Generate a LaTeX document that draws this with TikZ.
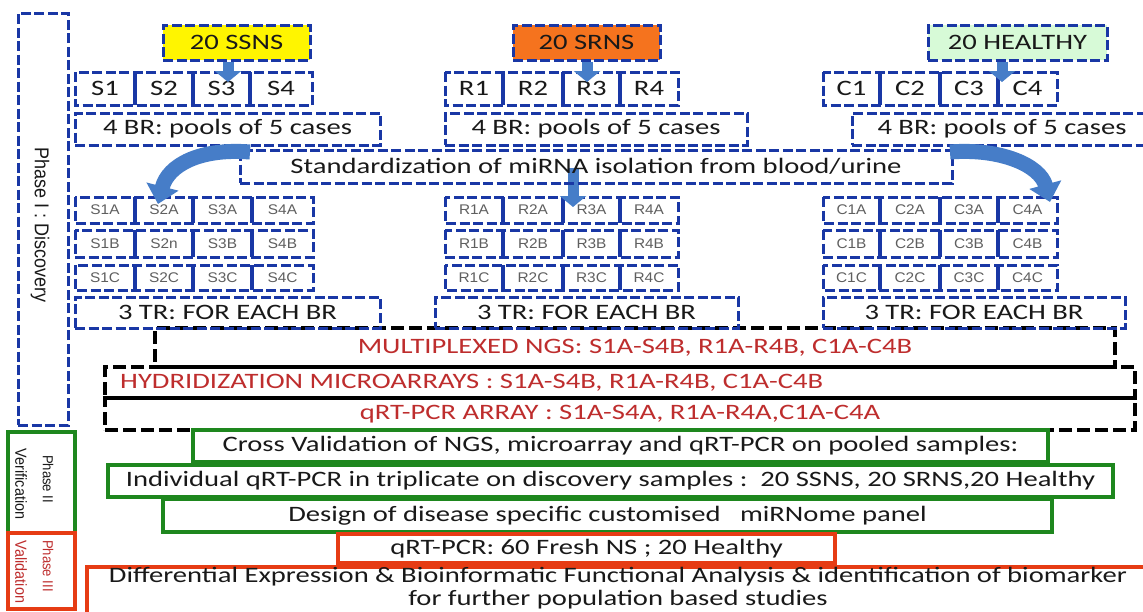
\documentclass[tikz,border=0pt]{standalone}
\usepackage{fontspec}
\setmainfont{Carlito}[FakeStretch=1.3]
\newfontfamily\arialf{Liberation Sans}
\newfontfamily\narrowf{Liberation Sans}[FakeStretch=0.9]
\newfontfamily\cellfont{Liberation Sans}[FakeStretch=1.1]
\usetikzlibrary{arrows.meta}
\definecolor{bluedk}{RGB}{25,55,165}
\definecolor{arrowblue}{RGB}{70,125,200}
\definecolor{txtred}{RGB}{190,45,45}
\definecolor{grn}{RGB}{30,135,30}
\definecolor{redb}{RGB}{230,60,20}
\definecolor{ssnsY}{RGB}{255,245,0}
\definecolor{srnsO}{RGB}{245,115,30}
\definecolor{hlthG}{RGB}{215,250,215}
\definecolor{txt}{RGB}{25,25,25}
\definecolor{celltxt}{RGB}{95,95,95}
\newcommand\mainsz{\fontsize{22}{26}\selectfont}
\newcommand\mybox[7]{\node[#1, minimum width={#5pt-#3pt}, minimum height={#6pt-#4pt}] (#2) at ({(#3+#5)/2},{(#4+#6)/2}) {#7};}
\tikzset{
 bd/.style={draw=bluedk, line width=3pt, dash pattern=on 10pt off 3.5pt, inner sep=0pt, text=txt, font=\mainsz},
 bs/.style={draw=bluedk, line width=3.2pt},
 kd/.style={draw=black, line width=3.8pt, dash pattern=on 13pt off 5pt, inner sep=0pt, text=txtred, font=\mainsz},
 gb/.style={draw=grn, line width=3.5pt, inner sep=0pt, text=txt, font=\mainsz},
 rb/.style={draw=redb, line width=3.5pt, inner sep=0pt, text=txt, font=\mainsz},
 lab/.style={inner sep=0pt, text=txt, font=\mainsz},
 bigcell/.style={inner sep=0pt, text=txt, font=\mainsz},
 smallcell/.style={inner sep=0pt, text=celltxt, font=\cellfont\fontsize{14}{16}\selectfont},
 smallarr/.style={draw=arrowblue, line width=11pt, -{Triangle[width=26pt,length=11pt]}},
 bigarr/.style={draw=arrowblue, line width=15pt, -{Triangle[width=32pt,length=18pt]}},
}
\begin{document}
\begin{tikzpicture}[x=1pt,y=-1pt]
\path[use as bounding box] (0,0) rectangle (1143,611);
\clip (0,0) rectangle (1143,611);
\fill[white] (0,0) rectangle (1143,611);

% black dashed frames
\mybox{kd}{ngs}{155}{328}{1115}{367}{MULTIPLEXED NGS: S1A-S4B, R1A-R4B, C1A-C4B}
\mybox{kd}{hyb}{105}{367}{1135}{398}{}
\node[lab, text=txtred, anchor=west] (hybt) at (120,383) {HYDRIDIZATION MICROARRAYS : S1A-S4B, R1A-R4B, C1A-C4B};
\mybox{kd}{qrt}{105}{398}{1135}{430}{qRT-PCR ARRAY : S1A-S4A, R1A-R4A,C1A-C4A}

% phase labels
\mybox{bd}{ph1}{18}{13}{68}{425}{}
\node[rotate=-90, inner sep=0pt, text=txt, font=\narrowf\fontsize{20}{22}\selectfont] (ph1t) at (40,225) {Phase I : Discovery};
\mybox{gb, line width=4.5pt}{ph2}{8}{432}{75}{533}{}
\node[rotate=-90, inner sep=0pt, text=txt, font=\narrowf\fontsize{14.5}{16}\selectfont] (ph2a) at (48,479) {Phase II};
\node[rotate=-90, inner sep=0pt, text=txt, font=\narrowf\fontsize{16}{18}\selectfont] (ph2b) at (21,484) {Verification};
\mybox{rb, line width=4.5pt}{ph3}{8}{533}{75}{609}{}
\node[rotate=-90, inner sep=0pt, text=txtred, font=\narrowf\fontsize{14.5}{16}\selectfont] (ph3a) at (48,566) {Phase III};
\node[rotate=-90, inner sep=0pt, text=txtred, font=\narrowf\fontsize{16}{18}\selectfont] (ph3b) at (21,572) {Validation};

% top group boxes
\mybox{bd, fill=ssnsY}{ssns}{163}{25}{310}{60}{20 SSNS}
\mybox{bd, fill=srnsO}{srns}{513}{25}{660}{60}{20 SRNS}
\mybox{bd, fill=hlthG}{hlth}{928}{25}{1107}{60}{20 HEALTHY}

% cell rows
\foreach \nm/\xa/\xb/\xc/\xd/\xe/\yt/\yb/\la/\lb/\lc/\ld in {
 s/75/135/193/250/312/72/105/S1/S2/S3/S4,
 r/445/503/563/620/678/72/105/R1/R2/R3/R4,
 c/823/880/940/998/1057/72/105/C1/C2/C3/C4}{
 \draw[bd] (\xa,\yt) rectangle (\xe,\yb);
 \foreach \p in {\xb,\xc,\xd} \draw[bs] (\p,\yt) -- (\p,\yb);
 \node[bigcell] (\nm-1) at ({(\xa+\xb)/2},{(\yt+\yb)/2}) {\la};
 \node[bigcell] (\nm-2) at ({(\xb+\xc)/2},{(\yt+\yb)/2}) {\lb};
 \node[bigcell] (\nm-3) at ({(\xc+\xd)/2},{(\yt+\yb)/2}) {\lc};
 \node[bigcell] (\nm-4) at ({(\xd+\xe)/2},{(\yt+\yb)/2}) {\ld};
}
\foreach \nm/\xa/\xb/\xc/\xd/\xe/\yt/\yb/\la/\lb/\lc/\ld in {
 sa/75/135/193/252/313/197/223/S1A/S2A/S3A/S4A,
 sb/75/135/193/252/313/230/257/S1B/S2n/S3B/S4B,
 sc/75/135/193/252/313/265/290/S1C/S2C/S3C/S4C,
 ra/445/503/563/620/678/197/223/R1A/R2A/R3A/R4A,
 rb/445/503/563/620/678/230/257/R1B/R2B/R3B/R4B,
 rc/445/503/563/620/678/265/290/R1C/R2C/R3C/R4C,
 ca/823/880/940/998/1057/197/223/C1A/C2A/C3A/C4A,
 cb/823/880/940/998/1057/230/257/C1B/C2B/C3B/C4B,
 cc/823/880/940/998/1057/265/290/C1C/C2C/C3C/C4C}{
 \draw[bd] (\xa,\yt) rectangle (\xe,\yb);
 \foreach \p in {\xb,\xc,\xd} \draw[bs] (\p,\yt) -- (\p,\yb);
 \node[smallcell] (\nm-1) at ({(\xa+\xb)/2},{(\yt+\yb)/2}) {\la};
 \node[smallcell] (\nm-2) at ({(\xb+\xc)/2},{(\yt+\yb)/2}) {\lb};
 \node[smallcell] (\nm-3) at ({(\xc+\xd)/2},{(\yt+\yb)/2}) {\lc};
 \node[smallcell] (\nm-4) at ({(\xd+\xe)/2},{(\yt+\yb)/2}) {\ld};
}

% BR boxes
\mybox{bd}{br1}{75}{113}{380}{145}{4 BR: pools of 5 cases}
\mybox{bd}{br2}{445}{113}{747}{145}{4 BR: pools of 5 cases}
\mybox{bd}{br3}{852}{113}{1152}{145}{4 BR: pools of 5 cases}

% middle arrow behind standardization text
\coordinate (m0) at (573,168);
\coordinate (m1) at (573,207);
\draw[smallarr] (m0) -- (m1);
\mybox{bd}{stand}{240}{150}{952}{183}{Standardization of miRNA isolation from blood/urine}

% TR boxes
\mybox{bd}{tr1}{75}{297}{380}{328}{3 TR: FOR EACH BR}
\mybox{bd}{tr2}{435}{297}{738}{328}{3 TR: FOR EACH BR}
\mybox{bd}{tr3}{823}{297}{1125}{328}{3 TR: FOR EACH BR}

% green boxes
\mybox{gb}{cross}{193}{430}{1048}{462}{Cross Validation of NGS, microarray and qRT-PCR on pooled samples:}
\mybox{gb}{indiv}{108}{465}{1113}{497}{Individual qRT-PCR in triplicate on discovery samples :\ \ 20 SSNS, 20 SRNS,20 Healthy}
\mybox{gb}{design}{163}{499}{1052}{532}{Design of disease specific customised\ \ \ miRNome panel}

% red boxes
\mybox{rb}{qpcr}{338}{534}{835}{563}{qRT-PCR: 60 Fresh NS ; 20 Healthy}
\mybox{rb}{diff}{87}{567}{1175}{640}{}
\node[lab, align=center, font=\fontsize{22}{22.5}\selectfont] (difft) at (618,588) {Differential Expression \& Bioinformatic Functional Analysis \& identification of biomarker\\for further population based studies};

% small down arrows
\coordinate (t1) at (228,82);
\draw[smallarr] (ssns.south -| t1) -- (t1);
\coordinate (t2) at (587,82);
\draw[smallarr] (srns.south -| t2) -- (t2);
\coordinate (t3) at (1002,82);
\draw[smallarr] (hlth.south -| t3) -- (t3);

% curved arrows
\coordinate (la0) at (250,152);
\coordinate (la1) at (158,204);
\draw[bigarr] (la0) .. controls (200,148) and (168,165) .. (la1);
\coordinate (ra0) at (950,152);
\coordinate (ra1) at (1050,202);
\draw[bigarr] (ra0) .. controls (1000,148) and (1040,165) .. (ra1);
\end{tikzpicture}
\end{document}
